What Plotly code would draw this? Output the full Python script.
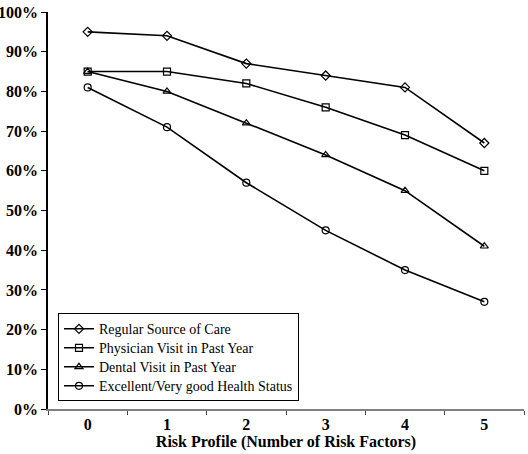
import plotly.graph_objects as go

categories = ["0", "1", "2", "3", "4", "5"]
regular_care = [95, 94, 87, 84, 81, 67]
physician_visit = [85, 85, 82, 76, 69, 60]
dental_visit = [85, 80, 72, 64, 55, 41]
excellent_health = [81, 71, 57, 45, 35, 27]
series_names = [
    "Regular Source of Care",
    "Physician Visit in Past Year",
    "Dental Visit in Past Year",
    "Excellent/Very good Health Status",
]
y_ticks = [0, 10, 20, 30, 40, 50, 60, 70, 80, 90, 100]
y_tick_labels = ["0%", "10%", "20%", "30%", "40%", "50%", "60%", "70%", "80%", "90%", "100%"]

symbols = ["diamond-open", "square-open", "triangle-up-open", "circle-open"]
series = [regular_care, physician_visit, dental_visit, excellent_health]

fig = go.Figure()
for name, vals, sym in zip(series_names, series, symbols):
    fig.add_trace(go.Scatter(
        x=categories, y=vals, name="<span style='font-size:14px'>" + name + "</span>",
        mode="lines+markers",
        line=dict(color="black", width=1.6),
        marker=dict(symbol=sym, size=7, color="black", line=dict(width=1.2, color="black")),
    ))

fig.update_layout(
    width=528, height=454,
    margin=dict(l=48, r=4, t=12, b=45, autoexpand=False),
    paper_bgcolor="white", plot_bgcolor="white",
    font=dict(family="Liberation Serif", color="black"),
    showlegend=True,
    legend=dict(
        x=0.021, y=0.241, xanchor="left", yanchor="top",
        bordercolor="black", borderwidth=1, bgcolor="white",
        font=dict(family="Liberation Serif", size=12, color="black"),
        tracegroupgap=0, itemwidth=30,
    ),
    xaxis=dict(
        type="category", range=[-0.5, 5.5], automargin=False,
        tickson="boundaries", ticks="outside", ticklen=4, tickcolor="#444",
        showline=True, linecolor="#808080", linewidth=2,
        showgrid=False, zeroline=False,
        tickfont=dict(family="Liberation Serif", size=16, color="black", weight="bold"),
        title=dict(text="<b>Risk Profile (Number of Risk Factors)</b>",
                   font=dict(family="Liberation Serif", size=16, color="black"), standoff=3),
    ),
    yaxis=dict(
        range=[0, 100], tickmode="array", tickvals=y_ticks, ticktext=y_tick_labels,
        automargin=False,
        ticks="outside", ticklen=5, tickcolor="black",
        showline=True, linecolor="black", linewidth=1.5,
        showgrid=False, zeroline=False,
        tickfont=dict(family="Liberation Serif", size=16, color="black", weight="bold"),
    ),
)

fig.write_html("out.html", config={"displayModeBar": False},
               post_script="document.body.style.margin='0';")
